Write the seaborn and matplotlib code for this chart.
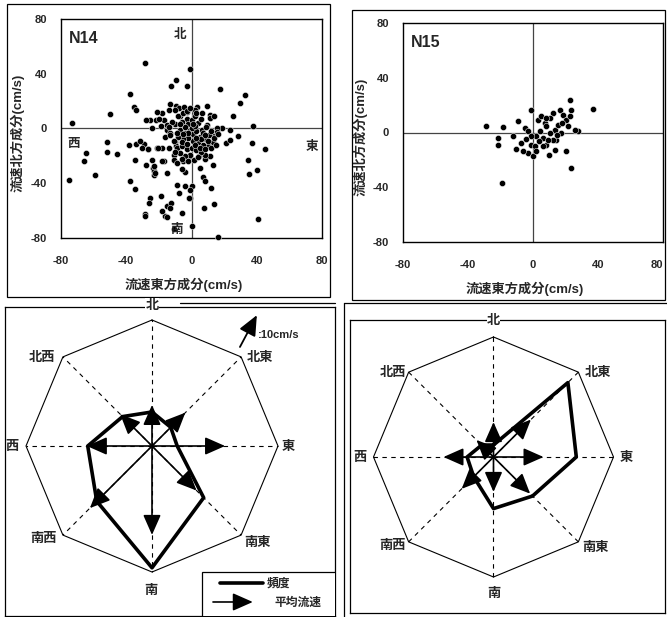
import numpy as np
import matplotlib
matplotlib.use("Agg")
import matplotlib.pyplot as plt
import seaborn as sns
from matplotlib.patches import Rectangle, FancyArrowPatch

# ---------------- data ----------------
n14_east = [-28.6, -0.7, -9.3, -12.4, -2.8, 17.3, 33, 29.5, -37.9, -35.4, -34, -49.7, -73.2, 25.4, 38, 37, 45,
            28.3, 34.6, 35.4, 40, 40.5, 16, 7.5, 13.6, 12.2, 6.8, 8.3, 13, 0.3, -0.7, -5.8, -10.9, -16, -18, -15,
            -12.4, -18.5, -25.6, -28.3, -28.5, -34.4, -37.5, -59, -75.3, -66, -64.4, -52, -51.6, -45.6, -38.5,
            -34.4, -34, -29.3, -26.7, -28, -23.6, -22.8, -23, -24.2, -17, -15, -8.9, -7.5, -4.2, 0.3, -0.7, -4.2,
            -5.8, 5.4, 8.1, 11.1, 21.4, 23.4, 23.8, 18.7, 15.6, 13.6, 13.6, 8.5, 9.5, 3.4, 2.3, 11.5, 11.5, 13.6,
            6.4, -9.5, -14, -18, -21, -22, -17, -25.2, -27.7, -19, -24.2, -15, -13, -16, -9.9, -9.3, -14, -18,
            -21, -11, -11, -8.9, -5.2, -0.7, 1.3, 4.4, -6.8, -2.8, -7.9, -9.9, 15.6, 6.4, 9.5, -31.4, -30.4,
            -26.9, -20.8, -23.2, -22.2, -18.1, -26.3, -13, -15, -1.8, -13.4, -4.8, -20.2, -15,
            -8, -5, -3, -6, -2, 0, 2, 4, 6, -10, -7, -4, -1, 1, 3, 5, 7, 9, 11, 13, 10, 7, 4, 1, -2, -5, -8, -11,
            -9, -6, -3, 0, 3, 6, -1, -4, -7, 2, 5, 8, 12, 14, 12, 9, -3, -1, 3, -12, -9, -13, -10, -6, -2, 4, 0,
            2, -2, 6, -4, -6, 10, 15, 16, -14, -5, 1, -7, 8, 3, -3]
n14_north = [47.7, 43.5, 35.5, 31.4, 31.1, 28.7, 24.6, 18.5, 25.3, 15.6, 13.6, 10.7, 3.9, 8.8, 1.5, -10.7, -15,
             -5.8, -22.9, -33, -30, -66, -79.6, -58, -55, -43.5, -35.5, -38.7, -26.5, -71.5, -51, -62, -73.5,
             -63.7, -60.6, -56.4, -54.5, -49.6, -50.9, -62.5, -64.2, -44.3, -38.2, -34.3, -37.5, -23.4, -18, -9.5,
             -17.5, -18.5, -12.4, -22.9, -11.2, -11.2, -15, -27, -28.5, -31.4, -33.8, -22.9, -24, -32.6, -41.6,
             -47.2, -41.8, -42.3, -44.8, -32, -29.7, -29, -22.4, -20.4, -10.7, -8.3, -1, 0.2, 0.2, -5.8, -12,
             -19.2, 16.5, 16, 13.6, 10, 7.5, 8.8, 11.2, 16.5, 13.6, 11.2, 11.7, 6.3, 6.3, 6.3, 6.3, 1.5, 0.7, -1,
             -3.4, -6.3, -9.5, -13, -14.4, -14.4, -14.4, -19.2, -22.9, -25.3, -23.6, -20.4, -22.9, -20.4, 8.8,
             12.4, 14.8, 13.6, -2.2, -1, 2.7, -9.2, -14, -15.3, -14, -27.5, -32.3, -23.8, -54.2, -57.9, -64.7,
             -50.6, 18, 15.6, 6.6, 2.9,
             9, 11, 7, 5, 3, 6, 9, 4, 7, 3, -1, -3, -1, -4, -2, -6, -3, -8, -5, -10, -13, -12, -10, -9, -7, -8,
             -6, -9, -14, -13, -15, -14, -16, -17, -19, -20, -18, -12, -14, -15, -14, -7, -2, 1, 13, 15, 11, 5,
             -3, -5, -17, -22, -24, -21, 0, 2, -3, -8, 1, -10, -9, -12, -4, 1, -4, 3, 3, -5, -7, -11]

n15_east = [-28.7, -18.5, -21.5, -21.5, -18.9, -12.3, -10.3, -9.2, -7.2, -5.1, -3, -1.4, -1, -3, 0, 1, 2, 3,
            5.1, 7.2, 6.2, 8.2, 9.8, 12.3, 13.3, 14.4, 16.4, 17.4, 18.5, 20.5, 22.6, 23.6, 21.5, 20.5, 23.6, 27.7,
            36.9, 10.3, 12.3, 4.1, 8.2, 15.4, 6.2, 13.3, -1, 3.7, -4.1, 10.7, 7.8, 18, 22.6, 9.2, 25.6, -6.2, 2,
            14.8]
n15_north = [4.5, 4, -4, -9.4, -37, -2.3, -11.8, 8.2, -7.7, 3.3, 0.9, 16.7, -8.9, -15, -17.4, -10, -2.8, 9.4,
             11.8, 7, -4, -8.9, -16.2, 14.2, 2, -5.2, 16.7, -0.4, 13, 9.4, 24, 16.7, 4.5, -13.8, -26, 1.3, 17.2,
             -0.4, -5.2, 0.9, 4.5, 5.6, -10.2, -12.6, -2.8, -6.5, -4.8, 10.5, 10.5, 7, 11.8, -5.2, 1.6, -13.8,
             -13.8, -1.6]

directions = ['北', '北東', '東', '南東', '南', '南西', '西', '北西']
freq_n14 = [8.1, 6.3, 6.0, 17.4, 29.0, 18.6, 15.3, 9.9]     # % (outer octagon = 30 %)
speed_n14 = [11.4, 13.1, 20.3, 17.5, 24.7, 24.4, 18.1, 12.5]  # cm/s
freq_n15 = [3.0, 26.3, 20.7, 13.8, 12.9, 7.0, 6.6, 4.2]
speed_n15 = [9.7, 14.7, 13.9, 14.4, 9.7, 12.5, 13.9, 6.7]

tick_vals = [-80, -40, 0, 40, 80]

# ---------------- style ----------------
sns.set_theme(style="white")
plt.rcParams['font.family'] = ['Liberation Sans', 'Noto Sans CJK JP']
plt.rcParams['axes.unicode_minus'] = False

W, H = 667, 617
fig = plt.figure(figsize=(W / 100, H / 100), dpi=100)
fig.patch.set_facecolor('white')


def box(x0, y0, x1, y1):
    return [x0 / W, 1 - y1 / H, (x1 - x0) / W, (y1 - y0) / H]


CJK = ['Noto Sans CJK JP', 'DejaVu Sans']
ARROW = '-|>,head_length=0.95,head_width=0.42'


def scatter_panel(rect, ex, no, name, compass, last_right=False):
    ax = fig.add_axes(box(*rect))
    ax.axhline(0, color='#444444', lw=0.9, zorder=1)
    ax.axvline(0, color='#444444', lw=0.9, zorder=1)
    sns.scatterplot(x=ex, y=no, ax=ax, color='black', s=20, edgecolor='white', linewidth=0.35,
                    legend=False, zorder=3, clip_on=False)
    ax.set_xlim(-80, 80)
    ax.set_ylim(-80, 80)
    ax.set_xticks(tick_vals)
    ax.set_yticks(tick_vals)
    ax.tick_params(length=0, labelsize=8)
    ax.tick_params(axis='x', pad=13)
    ax.tick_params(axis='y', pad=10)
    for lab in ax.get_xticklabels() + ax.get_yticklabels():
        lab.set_fontweight('bold')
    if last_right:
        ax.get_xticklabels()[-1].set_ha('right')
    for s in ax.spines.values():
        s.set_color('black')
        s.set_linewidth(1.0)
    ax.set_xlabel('流速東方成分(cm/s)', fontsize=9.5, fontweight='bold')
    ax.set_ylabel('流速北方成分(cm/s)', fontsize=9.5, fontweight='bold')
    ax.xaxis.label.set_va('center')
    ax.yaxis.label.set_va('center')
    ax.xaxis.set_label_coords(0.47, -0.215)
    ax.yaxis.set_label_coords(-0.165, 0.48)
    ax.text(-66, 66, name, fontsize=11.5, fontweight='bold', ha='center', va='center')
    if compass:
        for t, x, y in [('北', -7, 69), ('西', -72, -11), ('東', 74, -13), ('南', -9, -74)]:
            ax.text(x, y, t, family=CJK, fontsize=9, fontweight='bold', ha='center', va='center', zorder=4)
    return ax


scatter_panel((61, 19, 322, 238), n14_east, n14_north, 'N14', True)
scatter_panel((403, 23, 663, 242), n15_east, n15_north, 'N15', False, last_right=True)

FREQ_MAX = 30.0
PX_PER_CMS = 3.6


def rose_panel(rect, cx, cy, rpx, freq, speed, label_pos):
    x0, y0, x1, y1 = rect
    ax = fig.add_axes(box(*rect))
    ax.set_xlim((x0 - cx) / rpx, (x1 - cx) / rpx)
    ax.set_ylim((cy - y1) / rpx, (cy - y0) / rpx)
    ax.set_xticks([])
    ax.set_yticks([])
    for s in ax.spines.values():
        s.set_color('black')
        s.set_linewidth(0.9)
    theta = np.deg2rad(90 - 45 * np.arange(8))
    ox, oy = np.cos(theta), np.sin(theta)
    ax.plot(np.append(ox, ox[0]), np.append(oy, oy[0]), color='black', lw=0.8)
    for a, b in zip(ox, oy):
        ax.plot([0, a], [0, b], color='black', lw=0.8, ls=(0, (4, 4)))
    r = np.array(freq) / FREQ_MAX
    px, py = r * ox, r * oy
    sns.lineplot(x=np.append(px, px[0]), y=np.append(py, py[0]), ax=ax, sort=False, estimator=None,
                 color='black', lw=2.6, zorder=4)
    L = np.array(speed) * PX_PER_CMS / rpx
    for l, t in zip(L, theta):
        ax.add_patch(FancyArrowPatch((0, 0), (l * np.cos(t), l * np.sin(t)),
                                     arrowstyle=ARROW, mutation_scale=13,
                                     lw=1.2, color='black', shrinkA=0, shrinkB=0, zorder=5))
    for name, (lx, ly) in zip(directions, label_pos):
        ax.text(lx, ly, name, family=CJK, fontsize=9.5, fontweight='bold', ha='center', va='center',
                clip_on=False, zorder=6, bbox=dict(fc='white', ec='none', pad=0.2) if name == '北' else None)
    return ax


pos14 = [(0.0, 1.12), (0.86, 0.71), (1.08, 0.0), (0.84, -0.76), (-0.01, -1.14), (-0.86, -0.73),
         (-1.11, 0.0), (-0.87, 0.71)]
ax_bl = rose_panel((5, 307, 335, 616), 152, 446, 126, freq_n14, speed_n14, pos14)

pos15 = [(0.0, 1.14), (0.87, 0.71), (1.11, 0.0), (0.85, -0.75), (0.0, -1.13), (-0.84, -0.73),
         (-1.11, 0.0), (-0.84, 0.71)]
rose_panel((350, 320, 665, 613), 493.5, 457, 120, freq_n15, speed_n15, pos15)

# reference arrow 10 cm/s (bottom-left)
ref_len = 10 * PX_PER_CMS / 126
a0 = np.array([0.698, 0.786])
ang = np.deg2rad(62)
ax_bl.add_patch(FancyArrowPatch(tuple(a0), tuple(a0 + ref_len * np.array([np.cos(ang), np.sin(ang)])),
                                arrowstyle=ARROW, mutation_scale=13,
                                lw=1.3, color='black', shrinkA=0, shrinkB=0))
ax_bl.text(0.84, 0.88, ':10cm/s', fontsize=8, fontweight='bold', ha='left', va='center')

# legend (bottom-left)
ax_bl.add_patch(Rectangle((0.397, -1.36), 1.07, 0.36, fc='white', ec='black', lw=0.9, zorder=7))
ax_bl.plot([0.54, 0.88], [-1.087, -1.087], color='black', lw=2.6, zorder=8)
ax_bl.text(0.91, -1.087, '頻度', family=CJK, fontsize=8.5, fontweight='bold', ha='left', va='center', zorder=8)
ax_bl.add_patch(FancyArrowPatch((0.484, -1.238), (0.80, -1.238),
                                arrowstyle=ARROW, mutation_scale=13,
                                lw=1.2, color='black', shrinkA=0, shrinkB=0, zorder=8))
ax_bl.text(0.976, -1.238, '平均流速', family=CJK, fontsize=8.5, fontweight='bold', ha='left', va='center',
           zorder=8)

# panel frames
ov = fig.add_axes([0, 0, 1, 1], zorder=-1)
ov.set_xlim(0, W)
ov.set_ylim(H, 0)
ov.axis('off')
ov.add_patch(Rectangle((7, 4), 323, 293, fill=False, ec='black', lw=0.9))
ov.add_patch(Rectangle((352, 10), 313, 290, fill=False, ec='black', lw=0.9))
ov.plot([344, 344], [303, 617], color='black', lw=0.9)
ov.plot([344, 667], [303, 303], color='black', lw=0.9)
ov.plot([180, 335], [303, 303], color='black', lw=0.9)

fig.savefig('out.png', dpi=100, facecolor='white')
